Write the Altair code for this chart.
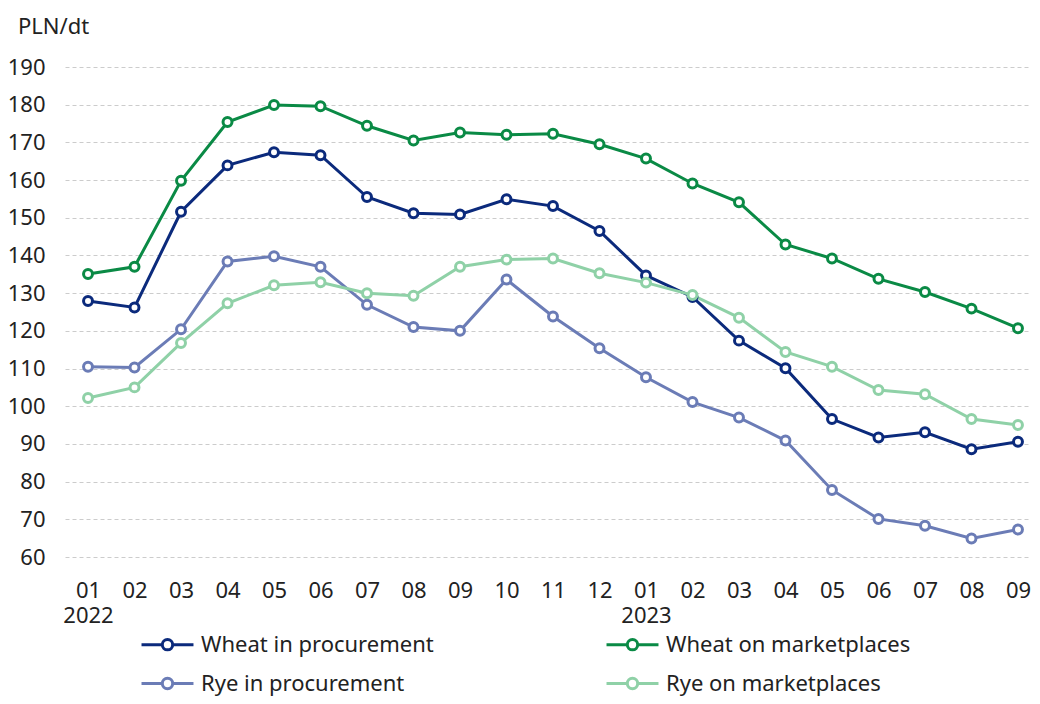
import altair as alt
import pandas as pd

periods = ["2022-01","2022-02","2022-03","2022-04","2022-05","2022-06","2022-07",
           "2022-08","2022-09","2022-10","2022-11","2022-12","2023-01","2023-02",
           "2023-03","2023-04","2023-05","2023-06","2023-07","2023-08","2023-09"]

series_names = ["Wheat in procurement", "Wheat on marketplaces",
                "Rye in procurement", "Rye on marketplaces"]
series_colors = ["#0b2a7c", "#0a8a45", "#6b7cb6", "#8fd1a7"]
# legend fills column by column: this order gives rows (WP, WM) and (RP, RM)
legend_order = ["Wheat in procurement", "Rye in procurement",
                "Wheat on marketplaces", "Rye on marketplaces"]

wheat_procurement = [127.9, 126.2, 151.6, 163.9, 167.4, 166.6, 155.5, 151.2, 150.9, 154.9,
                     153.1, 146.5, 134.7, 129.0, 117.4, 110.1, 96.6, 91.7, 93.1, 88.6, 90.6]
wheat_marketplaces = [135.1, 137.0, 159.8, 175.4, 179.9, 179.6, 174.4, 170.5, 172.6, 172.0,
                      172.3, 169.5, 165.7, 159.1, 154.1, 142.9, 139.2, 133.8, 130.3, 125.9, 120.7]
rye_procurement = [110.5, 110.3, 120.4, 138.4, 139.8, 137.0, 126.9, 121.0, 120.0, 133.6,
                   123.8, 115.4, 107.7, 101.1, 97.0, 90.9, 77.8, 70.1, 68.3, 64.9, 67.3]
rye_marketplaces = [102.2, 105.0, 116.8, 127.3, 132.1, 132.9, 130.0, 129.3, 137.0, 138.9,
                    139.2, 135.3, 132.8, 129.5, 123.5, 114.4, 110.5, 104.3, 103.2, 96.6, 95.0]

y_ticks = [60, 70, 80, 90, 100, 110, 120, 130, 140, 150, 160, 170, 180, 190]

rows = []
for name, vals in zip(series_names,
                      [wheat_procurement, wheat_marketplaces, rye_procurement, rye_marketplaces]):
    for p, v in zip(periods, vals):
        rows.append({"period": p, "series": name, "value": v})
df = pd.DataFrame(rows)

FONT = "Noto Sans"
TXT = "#222222"
color_map = dict(zip(series_names, series_colors))
legend_colors = [color_map[s] for s in legend_order]

legend_symbol = ("M-1,0 L-0.2,0 M0.2,0 L1,0 "
                 "M-0.2,0 A0.2,0.2 0 1,0 0.2,0 A0.2,0.2 0 1,0 -0.2,0 Z")

x_enc = alt.X("period:O", sort=periods,
              scale=alt.Scale(type="point", padding=0.366, align=0.676),
              axis=alt.Axis(title=None, labelAngle=0, ticks=False, domain=False, grid=False,
                            labelFontSize=22, labelColor=TXT, labelPadding=23,
                            labelLineHeight=25, labelBaseline="top",
                            labelExpr="substring(datum.value,5,7) == '01' ? "
                                      "[substring(datum.value,5,7), substring(datum.value,0,4)] : "
                                      "substring(datum.value,5,7)"))
y_enc = alt.Y("value:Q",
              scale=alt.Scale(domain=[60, 190], nice=False, zero=False),
              axis=alt.Axis(title=None, values=y_ticks, ticks=False, domain=False,
                            labelFontSize=22, labelColor=TXT, labelPadding=20,
                            gridDash=[4, 3], gridColor="#cccccc", gridWidth=1))
color_scale = alt.Scale(domain=legend_order, range=legend_colors)
color_enc = alt.Color("series:N", scale=color_scale,
                      legend=alt.Legend(title=None, orient="none", columns=2,
                                        legendX=75, legendY=550,
                                        columnPadding=166, rowPadding=0,
                                        symbolType=legend_symbol, symbolSize=2700,
                                        symbolStrokeWidth=3, symbolFillColor="white",
                                        labelFontSize=22, labelColor=TXT,
                                        labelOffset=6, labelLimit=400))

lines = alt.Chart(df).mark_line(strokeWidth=3).encode(x=x_enc, y=y_enc, color=color_enc)
points = alt.Chart(df).mark_point(filled=False, fill="white", fillOpacity=1, size=80,
                                  strokeWidth=3, opacity=1).encode(
    x=x_enc, y=y_enc, color=alt.Color("series:N", scale=color_scale, legend=None))

chart = alt.layer(lines, points).properties(
    width=964, height=490,
    autosize=alt.AutoSizeParams(type="none"),
    padding={"left": 57, "top": 59, "right": 3, "bottom": 139},
    title=alt.TitleParams("PLN/dt", anchor="start", frame="group", fontSize=22,
                          fontWeight="normal", color=TXT, font=FONT, dx=-47, offset=17),
).configure(font=FONT).configure_view(stroke=None).configure_axis(labelFont=FONT)

chart.save("out.html", embed_options={"renderer": "svg", "actions": False})
